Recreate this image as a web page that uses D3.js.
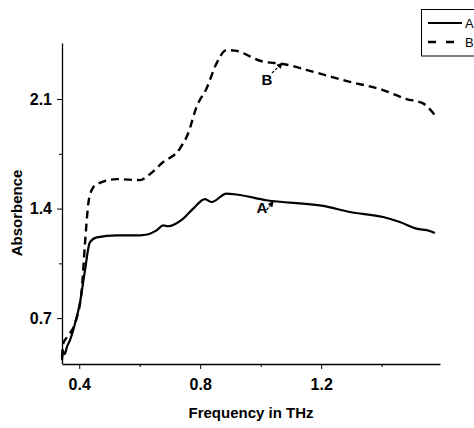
<!DOCTYPE html>
<html>
<head>
<meta charset="utf-8">
<script src="https://cdn.jsdelivr.net/npm/d3@7"></script>
<style>
  body { margin: 0; background: #fff; }
  text { font-family: "Liberation Sans", Arial, sans-serif; }
</style>
</head>
<body>
<svg id="chart" width="474" height="428"></svg>
<script>
// frequency (THz) / absorbence
var freqA = [0.343, 0.346, 0.352, 0.36, 0.369, 0.386, 0.402, 0.419, 0.435, 0.458, 0.524, 0.601, 0.656, 0.678, 0.693, 0.744, 0.777, 0.816, 0.838, 0.887, 0.92, 1.019, 1.207, 1.295, 1.405, 1.46, 1.515, 1.559, 1.576];
var absA  = [0.43, 0.49, 0.47, 0.52, 0.557, 0.666, 0.794, 1.005, 1.184, 1.216, 1.229, 1.229, 1.261, 1.293, 1.287, 1.336, 1.40, 1.46, 1.442, 1.496, 1.49, 1.453, 1.417, 1.378, 1.346, 1.314, 1.272, 1.257, 1.244];

var freqB = [0.343, 0.347, 0.36, 0.386, 0.408, 0.419, 0.43, 0.441, 0.458, 0.524, 0.601, 0.634, 0.672, 0.733, 0.76, 0.788, 0.821, 0.854, 0.887, 0.915, 1.008, 1.074, 1.185, 1.295, 1.405, 1.482, 1.537, 1.576];
var absB  = [0.45, 0.536, 0.58, 0.666, 0.877, 1.176, 1.432, 1.517, 1.556, 1.588, 1.582, 1.62, 1.688, 1.784, 1.88, 2.05, 2.168, 2.328, 2.413, 2.409, 2.339, 2.324, 2.268, 2.21, 2.157, 2.1, 2.072, 1.997];

var xTicks = [0.4, 0.8, 1.2];
var xMinor = [0.6, 1.0, 1.4];
var yTicks = [0.7, 1.4, 2.1];
var yMinor = [1.05, 1.75];

var svg = d3.select('#chart');

var x = d3.scaleLinear().domain([0.343, 1.593]).range([62, 440]);
var y = d3.scaleLinear().domain([0.41, 2.458]).range([363.5, 43]);

var seriesA = freqA.map(function(f, i) { return [f, absA[i]]; });
var seriesB = freqB.map(function(f, i) { return [f, absB[i]]; });

var line = d3.line()
    .x(function(d) { return x(d[0]); })
    .y(function(d) { return y(d[1]); })
    .curve(d3.curveMonotoneX);

// axes
var xAxis = svg.append('g').attr('transform', 'translate(0,364)')
    .call(d3.axisBottom(x).tickValues(xTicks).tickFormat(d3.format('.1f')).tickSize(5).tickSizeOuter(0));
svg.append('g').attr('transform', 'translate(0,364)')
    .call(d3.axisBottom(x).tickValues(xMinor).tickFormat('').tickSize(3).tickSizeOuter(0))
    .select('.domain').remove();

var yAxis = svg.append('g').attr('transform', 'translate(62,0)')
    .call(d3.axisLeft(y).tickValues(yTicks).tickFormat(d3.format('.1f')).tickSize(5).tickSizeOuter(0));
svg.append('g').attr('transform', 'translate(62,0)')
    .call(d3.axisLeft(y).tickValues(yMinor).tickFormat('').tickSize(3).tickSizeOuter(0))
    .select('.domain').remove();

svg.selectAll('.domain').attr('stroke-width', 1.3);
svg.selectAll('.tick line').attr('stroke-width', 1);
xAxis.selectAll('.tick text')
    .attr('font-size', 16).attr('font-weight', 'bold').attr('dy', '1.1em')
    .attr('font-family', '"Liberation Sans", Arial, sans-serif');
yAxis.selectAll('.tick text')
    .attr('font-size', 16).attr('font-weight', 'bold').attr('x', -10)
    .attr('font-family', '"Liberation Sans", Arial, sans-serif');

// titles
svg.append('text')
    .attr('x', 251).attr('y', 418)
    .attr('text-anchor', 'middle')
    .attr('font-size', 15).attr('font-weight', 'bold')
    .text('Frequency in THz');

svg.append('text')
    .attr('transform', 'translate(22,213) rotate(-90)')
    .attr('text-anchor', 'middle')
    .attr('font-size', 15).attr('font-weight', 'bold')
    .text('Absorbence');

// curves
svg.append('path').datum(seriesB)
    .attr('d', line).attr('fill', 'none')
    .attr('stroke', '#000').attr('stroke-width', 2.4)
    .attr('stroke-dasharray', '8,5');

svg.append('path').datum(seriesA)
    .attr('d', line).attr('fill', 'none')
    .attr('stroke', '#000').attr('stroke-width', 2.2);

// annotations
svg.append('defs').append('marker')
    .attr('id', 'head')
    .attr('viewBox', '0 0 10 10')
    .attr('refX', 8).attr('refY', 5)
    .attr('markerWidth', 5).attr('markerHeight', 5)
    .attr('orient', 'auto')
  .append('path').attr('d', 'M0,0 L10,5 L0,10 z').attr('fill', '#000');

var notes = [
  {label: 'B', tx: 267, ty: 85, from: [272, 73], to: [282, 63.5]},
  {label: 'A', tx: 262, ty: 213, from: [266.5, 210], to: [273, 202]}
];
notes.forEach(function(n) {
  svg.append('text')
      .attr('x', n.tx).attr('y', n.ty)
      .attr('text-anchor', 'middle')
      .attr('font-size', 15).attr('font-weight', 'bold')
      .text(n.label);
  svg.append('line')
      .attr('x1', n.from[0]).attr('y1', n.from[1])
      .attr('x2', n.to[0]).attr('y2', n.to[1])
      .attr('stroke', '#000').attr('stroke-width', 1.2)
      .attr('stroke-dasharray', '3,1.5')
      .attr('marker-end', 'url(#head)');
});

// legend
var legend = svg.append('g');
legend.append('rect')
    .attr('x', 421.5).attr('y', 9.5).attr('width', 80).attr('height', 46.5)
    .attr('fill', '#fff').attr('stroke', '#000').attr('stroke-width', 1);
legend.append('line')
    .attr('x1', 428).attr('x2', 462).attr('y1', 23).attr('y2', 23)
    .attr('stroke', '#000').attr('stroke-width', 2.2);
legend.append('line')
    .attr('x1', 428).attr('x2', 462).attr('y1', 42).attr('y2', 42)
    .attr('stroke', '#000').attr('stroke-width', 2.4)
    .attr('stroke-dasharray', '8,10');
legend.append('text').attr('x', 465).attr('y', 28).attr('font-size', 13).text('A');
legend.append('text').attr('x', 465).attr('y', 47).attr('font-size', 13).text('B');
</script>
</body>
</html>
